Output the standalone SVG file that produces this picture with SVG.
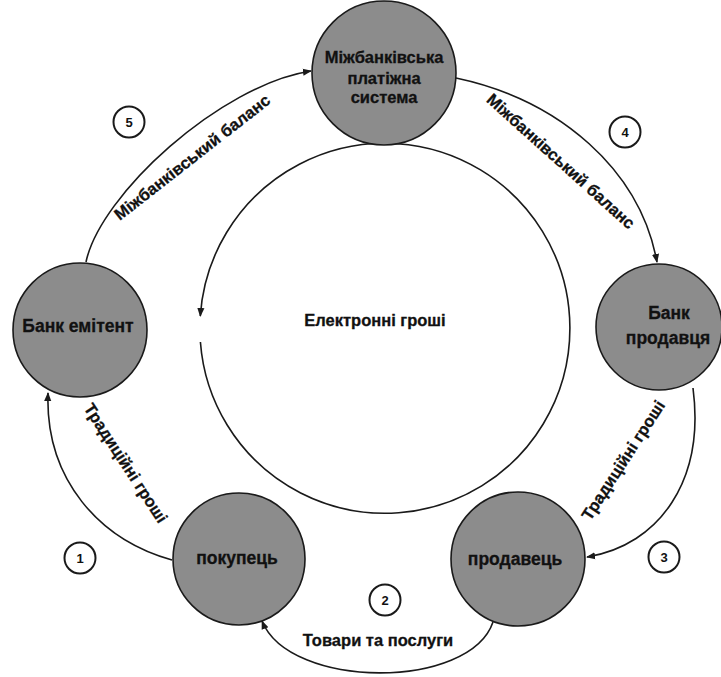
<svg xmlns="http://www.w3.org/2000/svg" width="721" height="677" viewBox="0 0 721 677">
<style>
.node{fill:#8c8c8c;stroke:#1a1a1a;stroke-width:1.6}
.nt{font-family:"Liberation Sans",Arial,sans-serif;font-weight:bold;font-size:17.5px;fill:#111;stroke:#111;stroke-width:0.3;text-anchor:middle}
.nt.top{font-size:16.5px}
.lb{font-family:"Liberation Sans",Arial,sans-serif;font-weight:bold;font-size:16.5px;fill:#111;stroke:#111;stroke-width:0.3;text-anchor:middle}
.edge{fill:none;stroke:#1a1a1a;stroke-width:1.6}
.num{fill:#fff;stroke:#1a1a1a;stroke-width:2}
.nn{font-family:"Liberation Sans",Arial,sans-serif;font-weight:bold;font-size:13px;fill:#111;text-anchor:middle}
</style>
<defs>
<marker id="ah" viewBox="0 0 10 10" refX="9" refY="5" markerWidth="9" markerHeight="9" markerUnits="userSpaceOnUse" orient="auto">
<path d="M0,1 L10,5 L0,9 Z" fill="#1a1a1a"/>
</marker>
</defs>
<rect width="721" height="677" fill="#fff"/>
<g id="connectors">
<path class="edge" d="M200.4,342 A185,185 0 1 0 200.3,316" marker-end="url(#ah)"/>
<path class="edge" d="M172,560 C100,540 45,480 48,393" marker-end="url(#ah)"/>
<path class="edge" d="M493,622 C470,690 290,690 262,621" marker-end="url(#ah)"/>
<path class="edge" d="M693,388 C705,480 660,545 587,557" marker-end="url(#ah)"/>
<path class="edge" d="M456,78 C560,100 640,170 657,262" marker-end="url(#ah)"/>
<path class="edge" d="M86,262 C100,195 220,85 311,71" marker-end="url(#ah)"/>
</g>
<g id="labels">
<text class="lb" transform="translate(126,463) rotate(57)" dy="6">Традиційні гроші</text>
<text class="lb" transform="translate(378,640)" dy="6">Товари та послуги</text>
<text class="lb" transform="translate(623,460) rotate(-57)" dy="6">Традиційні гроші</text>
<text class="lb" transform="translate(561,161) rotate(42)" dy="6">Міжбанківський баланс</text>
<text class="lb" transform="translate(192,157) rotate(-38)" dy="6">Міжбанківський баланс</text>
<text class="lb" x="375" y="326">Електронні гроші</text>
</g>
<g id="n1"><circle class="num" cx="80" cy="558" r="15.5"/><text class="nn" x="80" y="563">1</text></g>
<g id="n2"><circle class="num" cx="385" cy="600" r="15.5"/><text class="nn" x="385" y="605">2</text></g>
<g id="n3"><circle class="num" cx="664" cy="557" r="15.5"/><text class="nn" x="664" y="562">3</text></g>
<g id="n4"><circle class="num" cx="625" cy="132" r="15.5"/><text class="nn" x="625" y="137">4</text></g>
<g id="n5"><circle class="num" cx="129" cy="122" r="15.5"/><text class="nn" x="129" y="127">5</text></g>
<g id="interbank">
<circle class="node" cx="384" cy="73" r="72"/>
<text class="nt top" x="384" y="63">Міжбанківська</text>
<text class="nt top" x="384" y="84">платіжна</text>
<text class="nt top" x="384" y="103">система</text>
</g>
<g id="issuer">
<circle class="node" cx="80" cy="330" r="67"/>
<text class="nt" x="78" y="332">Банк емітент</text>
</g>
<g id="sellerbank">
<circle class="node" cx="659" cy="327" r="63"/>
<text class="nt" x="669" y="319">Банк</text>
<text class="nt" x="668" y="344">продавця</text>
</g>
<g id="buyer">
<circle class="node" cx="239" cy="559" r="66"/>
<text class="nt" x="237" y="564">покупець</text>
</g>
<g id="seller">
<circle class="node" cx="518" cy="559" r="67"/>
<text class="nt" x="515" y="565">продавець</text>
</g>
</svg>
